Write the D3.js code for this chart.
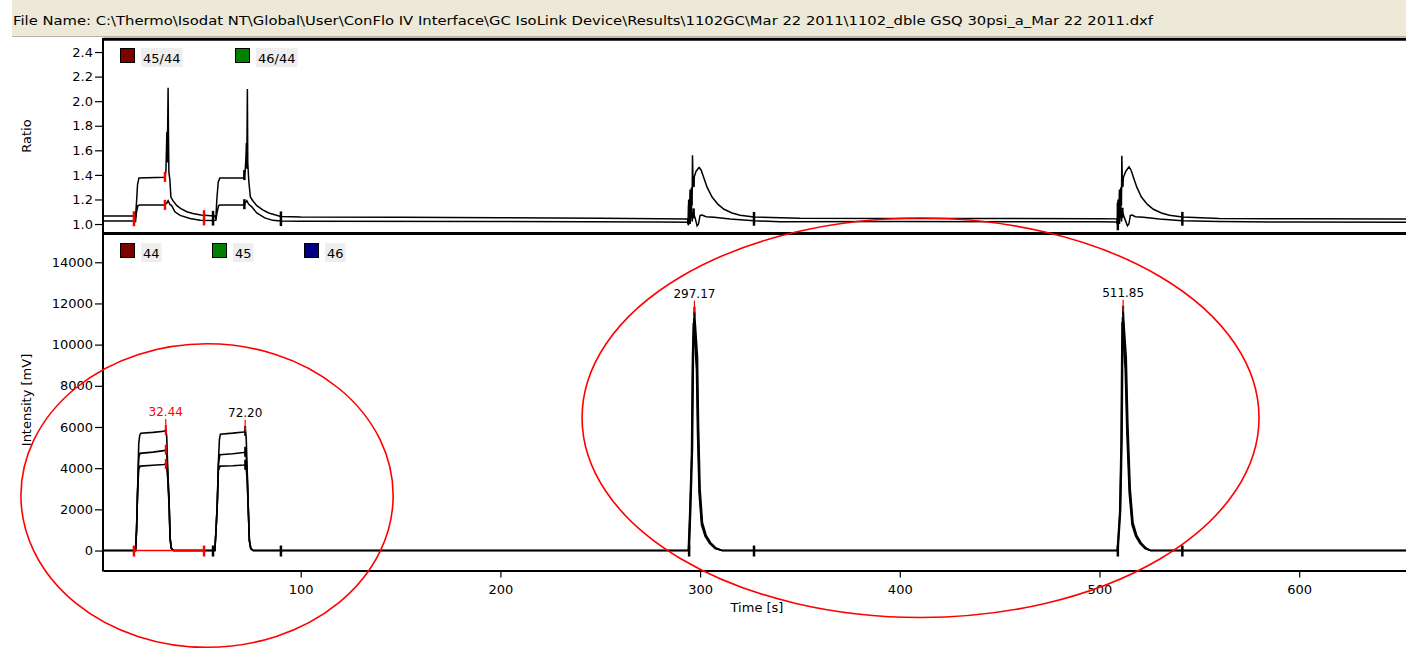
<!DOCTYPE html>
<html>
<head>
<meta charset="utf-8">
<script src="https://cdn.jsdelivr.net/npm/d3@7"></script>
<style>
body { margin: 0; background: #fff; }
svg text { font-family: "DejaVu Sans", sans-serif; fill: #000; }
</style>
</head>
<body>
<div id="chart"></div>
<script>
// file header
var fileName = "File Name: C:\\Thermo\\Isodat NT\\Global\\User\\ConFlo IV Interface\\GC IsoLink Device\\Results\\1102GC\\Mar 22 2011\\1102_dble GSQ 30psi_a_Mar 22 2011.dxf";

// legend names
var ratioNames = ["45/44", "46/44"];
var massNames = ["44", "45", "46"];

// tick values
var ratioTicks = [1.0, 1.2, 1.4, 1.6, 1.8, 2.0, 2.2, 2.4];
var intensityTicks = [0, 2000, 4000, 6000, 8000, 10000, 12000, 14000];
var timeTicks = [100, 200, 300, 400, 500, 600];

// peaks (time in s)
var peakStart = [16.5, 56.1, 294.5, 509.2];
var peakEnd = [51.6, 90.1, 327, 541.5];
var peakApex = [32.44, 72.20, 297.17, 511.85];
var peakLabel = ["32.44", "72.20", "297.17", "511.85"];
var selectedPeak = 0;

// ratio traces [time, ratio]
var r45 = [
  [0,1.065],[16,1.065],[17.3,1.06],[17.8,1.18],[18.3,1.32],[19,1.375],[32,1.38],[32.5,1.43],[33,1.75],[33.2,1.5],[33.4,1.81],[33.6,2.11],[33.8,1.7],[34,1.42],[34.5,1.36],[35,1.22],[36,1.19],[38,1.15],[40,1.125],[43,1.1],[46,1.085],[50,1.073],[55,1.068],[57,1.065],[57.5,1.04],[58,1.2],[58.7,1.34],[59.5,1.375],[71.5,1.375],[72.2,1.43],[72.6,1.55],[72.8,1.66],[73,1.45],[73.3,2.1],[73.5,1.5],[74,1.35],[74.8,1.22],[76,1.19],[78,1.15],[81,1.115],[84,1.09],[87,1.075],[90,1.062],[100,1.057],[150,1.055],[200,1.052],[250,1.048],[280,1.042],[293.7,1.04],
  [294,1.0],[294.3,1.2],[294.6,1.03],[295,1.28],[295.3,1.05],[295.7,1.3],[296,1.15],[296.2,1.56],[296.5,1.3],[297,1.38],[298,1.43],[299.5,1.46],[300.5,1.44],[302,1.37],[303.5,1.3],[306,1.22],[309,1.16],[312,1.12],[316,1.09],[320,1.072],[327,1.058],
  [350,1.047],[400,1.045],[450,1.045],[500,1.043],[508.7,1.042],
  [509,1.0],[509.3,1.2],[509.6,1.03],[510,1.28],[510.3,1.05],[510.7,1.3],[511,1.15],[511.2,1.556],[511.5,1.3],[512,1.38],[513.2,1.43],[514.8,1.466],[515.8,1.44],[517.2,1.37],[518.7,1.3],[521,1.22],[524,1.16],[527,1.12],[531,1.09],[535,1.072],[541.5,1.058],
  [560,1.045],[600,1.042],[653.5,1.04]
];
var r46 = [
  [0,1.024],[16,1.024],[17.3,1.02],[17.8,1.1],[18.5,1.15],[19.5,1.155],[32,1.155],[33,1.17],[33.6,1.19],[34.5,1.16],[35.4,1.15],[37,1.1],[39.6,1.07],[44.6,1.045],[49.6,1.03],[56,1.028],[57.5,1.03],[58.2,1.1],[58.9,1.15],[59.6,1.155],[71.5,1.155],[72.2,1.17],[73,1.19],[74,1.16],[75.5,1.14],[78,1.09],[82,1.05],[86,1.03],[90,1.024],[100,1.022],[200,1.02],[280,1.016],[293.7,1.014],
  [294.2,0.99],[294.6,1.15],[295,1.0],[295.5,1.22],[296,1.02],[296.5,1.1],[297.5,1.05],[298.5,0.986],[299.2,1.0],[300,1.07],[301,1.073],[303,1.06],[307,1.055],[315,1.04],[327,1.027],[340,1.018],[400,1.02],[500,1.018],[508.7,1.016],
  [509.2,0.99],[509.6,1.15],[510,1.0],[510.5,1.22],[511,1.02],[511.5,1.1],[512.5,1.05],[514,0.986],[514.7,1.0],[515.5,1.07],[516.3,1.073],[518,1.06],[522,1.055],[530,1.04],[541.5,1.027],[560,1.02],[600,1.016],[653.5,1.014]
];

// intensity traces [time, mV]
var i44 = [
  [0,0],[17.3,0],[17.8,1000],[18.3,2800],[18.9,5200],[19.4,5600],[20,5700],[26,5740],[31.5,5790],[32.5,5850],[32.9,5550],[33.4,4000],[34.1,2400],[34.6,600],[35.2,120],[36.3,0],
  [57,0],[57.6,1000],[58.2,2200],[58.8,4300],[59.3,5400],[59.8,5650],[66,5700],[71.5,5760],[72.3,5820],[72.7,5500],[73.2,3900],[73.8,2000],[74.3,500],[75,100],[76.2,0],
  [294.6,0],[295.3,2000],[296.2,5000],[296.7,10000],[297.17,11600],[297.7,10900],[298.7,9400],[299.2,6200],[300,3000],[301.2,1350],[303,750],[305.3,380],[308,120],[311,0],
  [509.3,0],[510.6,2000],[511.3,5500],[511.65,10000],[511.85,11650],[512.35,10900],[513.4,9400],[514.2,6200],[515.4,3000],[516.8,1350],[518.6,750],[520.8,380],[523.3,120],[525.5,0],
  [653.5,0]
];
var i45 = [
  [0,0],[17.3,0],[17.8,1000],[18.3,2800],[18.9,4500],[19.5,4720],[26,4780],[31.5,4850],[32.5,4900],[32.9,4700],[33.4,3800],[34.1,2300],[34.6,600],[35.2,120],[36.3,0],
  [57,0],[57.6,1000],[58.2,2200],[58.8,4200],[59.5,4650],[66,4700],[71.5,4760],[72.3,4800],[72.7,4600],[73.2,3700],[73.8,1900],[74.3,500],[75,100],[76.2,0],
  [294.3,0],[295.0,1900],[295.9,4800],[296.4,9700],[296.87,11300],[297.4,10600],[298.4,9100],[298.9,6000],[299.7,2900],[300.9,1300],[302.7,720],[305,360],[307.7,110],[311,0],
  [509.1,0],[510.3,1900],[511.0,5300],[511.35,9700],[511.55,11350],[512.05,10600],[513.1,9100],[513.9,6000],[515.1,2900],[516.5,1300],[518.3,720],[520.5,360],[523,110],[525.5,0],
  [653.5,0]
];
var i46 = [
  [0,0],[17.3,0],[17.8,1000],[18.3,2800],[18.9,3950],[19.6,4100],[26,4140],[31.5,4180],[32.5,4200],[32.9,4050],[33.4,3500],[34.1,2200],[34.6,550],[35.2,110],[36.3,0],
  [57,0],[57.6,1000],[58.2,2200],[58.8,3900],[59.6,4100],[66,4120],[71.5,4150],[72.3,4170],[72.7,4000],[73.2,3400],[73.8,1800],[74.3,450],[75,90],[76.2,0],
  [294.1,0],[294.8,1800],[295.7,4600],[296.2,9400],[296.67,11050],[297.2,10300],[298.2,8800],[298.7,5800],[299.5,2800],[300.7,1250],[302.5,700],[304.8,340],[307.5,100],[311,0],
  [508.9,0],[510.1,1800],[510.8,5100],[511.15,9400],[511.35,11100],[511.85,10300],[512.9,8800],[513.7,5800],[514.9,2800],[516.3,1250],[518.1,700],[520.3,340],[522.8,100],[525.5,0],
  [653.5,0]
];

// red ellipse annotations (centre time / mV, half-width in s, half-height in mV)
var ringT = [53.1, 410.4];
var ringV = [2670, 6450];
var ringHalfT = [93.2, 169.5];
var ringHalfV = [7370, 9700];

var W = 1406, H = 653;
var RED = "#ff0000";

var svg = d3.select("#chart").append("svg")
  .attr("width", W)
  .attr("height", H);

// header bar
svg.append("rect").attr("x", 12).attr("y", 0).attr("width", W - 12).attr("height", 37).attr("fill", "#ECE9D8");
svg.append("line").attr("x1", 12).attr("x2", W).attr("y1", 36.5).attr("y2", 36.5).attr("stroke", "#B8B5A6");
svg.append("text")
  .attr("x", 13).attr("y", 25)
  .attr("font-size", "12px")
  .attr("textLength", 1140)
  .attr("lengthAdjust", "spacingAndGlyphs")
  .text(fileName);

// scales
var x = d3.scaleLinear().domain([1, 653.5]).range([103, 1406]);
var yR = d3.scaleLinear().domain([0.927, 2.498]).range([233, 40]);
var yI = d3.scaleLinear().domain([-970, 15324]).range([570.5, 235]);

var defs = svg.append("defs");
defs.append("clipPath").attr("id", "clipR").append("rect")
  .attr("x", 103).attr("y", 41).attr("width", 1303).attr("height", 192);
defs.append("clipPath").attr("id", "clipI").append("rect")
  .attr("x", 103).attr("y", 235).attr("width", 1303).attr("height", 335);

function valueAt(series, t) {
  var i = d3.bisector(function(d) { return d[0]; }).left(series, t);
  if (i <= 0) return series[0][1];
  if (i >= series.length) return series[series.length - 1][1];
  var a = series[i - 1], b = series[i];
  return a[1] + (b[1] - a[1]) * (t - a[0]) / (b[0] - a[0]);
}

// ---- ratio panel
var gR = svg.append("g").attr("clip-path", "url(#clipR)");
var lineR = d3.line().x(function(d) { return x(d[0]); }).y(function(d) { return yR(d[1]); });
gR.selectAll(".trace").data([r45, r46]).join("path")
  .attr("class", "trace")
  .attr("d", lineR)
  .attr("fill", "none")
  .attr("stroke", "#000")
  .attr("stroke-width", 1.5);

// start / end markers on ratio traces
peakStart.forEach(function(s, i) {
  var col = i === selectedPeak ? RED : "#000";
  [s, peakEnd[i]].forEach(function(t) {
    var a = valueAt(r45, t), b = valueAt(r46, t);
    gR.append("line")
      .attr("x1", x(t)).attr("x2", x(t))
      .attr("y1", yR(Math.max(a, b)) - 5)
      .attr("y2", yR(Math.min(a, b)) + 5)
      .attr("stroke", col).attr("stroke-width", 2.5);
  });
  [r45, r46].forEach(function(s2) {
    var v = valueAt(s2, peakApex[i] - 0.4);
    gR.append("line")
      .attr("x1", x(peakApex[i] - 0.4)).attr("x2", x(peakApex[i] - 0.4))
      .attr("y1", yR(v) - 5).attr("y2", yR(v) + 5)
      .attr("stroke", col).attr("stroke-width", 2.5);
  });
});

// ---- intensity panel
var gI = svg.append("g").attr("clip-path", "url(#clipI)");
var lineI = d3.line().x(function(d) { return x(d[0]); }).y(function(d) { return yI(d[1]); });
gI.selectAll(".trace").data([i44, i45, i46]).join("path")
  .attr("class", "trace")
  .attr("d", lineI)
  .attr("fill", "none")
  .attr("stroke", "#000")
  .attr("stroke-width", 1.6);

// selected peak baseline
gI.append("line")
  .attr("x1", x(peakStart[selectedPeak])).attr("x2", x(peakEnd[selectedPeak]))
  .attr("y1", yI(0)).attr("y2", yI(0))
  .attr("stroke", RED).attr("stroke-width", 1.5);

peakStart.forEach(function(s, i) {
  var col = i === selectedPeak ? RED : "#000";
  [s, peakEnd[i]].forEach(function(t) {
    gI.append("line")
      .attr("x1", x(t)).attr("x2", x(t))
      .attr("y1", yI(0) - 5).attr("y2", yI(0) + 6)
      .attr("stroke", col).attr("stroke-width", 2.5);
  });
  // highest point of the three traces around the apex
  var top = d3.max([i44, i45, i46], function(s2) {
    return d3.max(s2.filter(function(d) { return Math.abs(d[0] - peakApex[i]) <= 1; }), function(d) { return d[1]; });
  });
  [i44, i45, i46].forEach(function(s2) {
    var v = valueAt(s2, peakApex[i]);
    gI.append("line")
      .attr("x1", x(peakApex[i])).attr("x2", x(peakApex[i]))
      .attr("y1", yI(v) - 5).attr("y2", yI(v) + 5)
      .attr("stroke", col).attr("stroke-width", 2);
  });
  gI.append("line")
    .attr("x1", x(peakApex[i])).attr("x2", x(peakApex[i]))
    .attr("y1", yI(top) - 11).attr("y2", yI(top) + 1)
    .attr("stroke", RED).attr("stroke-width", 1.2);
  gI.append("text")
    .attr("x", x(peakApex[i]))
    .attr("y", yI(top) - 14)
    .attr("text-anchor", "middle")
    .attr("font-size", "12px")
    .style("fill", i === selectedPeak ? RED : "#000")
    .text(peakLabel[i]);
});

// ---- frame and axes
svg.append("line").attr("x1", 103).attr("x2", W).attr("y1", 39.2).attr("y2", 39.2)
  .attr("stroke", "#000").attr("stroke-width", 3);
svg.append("line").attr("x1", 103).attr("x2", W).attr("y1", 233.5).attr("y2", 233.5)
  .attr("stroke", "#000").attr("stroke-width", 3);
svg.append("line").attr("x1", 103).attr("x2", 103).attr("y1", 38).attr("y2", 571.5)
  .attr("stroke", "#000").attr("stroke-width", 2);

var axR = svg.append("g").attr("transform", "translate(102,0)")
  .call(d3.axisLeft(yR).tickValues(ratioTicks).tickFormat(d3.format(".1f")).tickSize(7).tickPadding(2));
var axI = svg.append("g").attr("transform", "translate(102,0)")
  .call(d3.axisLeft(yI).tickValues(intensityTicks).tickFormat(d3.format("d")).tickSize(7).tickPadding(2));
var axX = svg.append("g").attr("transform", "translate(0,570.5)")
  .call(d3.axisBottom(x).tickValues(timeTicks).tickFormat(d3.format("d")).tickSize(7).tickSizeOuter(0).tickPadding(7));

[axR, axI].forEach(function(a) { a.select(".domain").remove(); });
axX.select(".domain").attr("stroke-width", 2);
[axR, axI, axX].forEach(function(a) {
  a.selectAll("text").attr("font-size", "13px").attr("font-family", "DejaVu Sans, sans-serif").style("fill", "#000");
  a.selectAll(".tick line").attr("stroke", "#000").attr("stroke-width", 1.2);
});

// axis titles
svg.append("text").attr("transform", "translate(31,136) rotate(-90)")
  .attr("text-anchor", "middle").attr("font-size", "13px").text("Ratio");
svg.append("text").attr("transform", "translate(31,400) rotate(-90)")
  .attr("text-anchor", "middle").attr("font-size", "13px").text("Intensity [mV]");
svg.append("text").attr("x", 757).attr("y", 612)
  .attr("text-anchor", "middle").attr("font-size", "13px").text("Time [s]");

// ---- legends
function legend(names, colors, x0, step, y0) {
  names.forEach(function(n, i) {
    var lx = x0 + i * step;
    var bg = svg.append("rect").attr("x", lx + 21).attr("y", y0).attr("height", 19).attr("fill", "#EEEEEE");
    var t = svg.append("text").attr("x", lx + 23).attr("y", y0 + 15).attr("font-size", "13px").text(n);
    bg.attr("width", t.node().getComputedTextLength() + 4);
    svg.append("rect").attr("x", lx + 0.5).attr("y", y0 + 0.5).attr("width", 14).attr("height", 14)
      .attr("fill", colors[i]).attr("stroke", "#000").attr("stroke-width", 1);
  });
}
legend(ratioNames, ["#800000", "#008000"], 120, 115, 48);
legend(massNames, ["#800000", "#008000", "#000080"], 120, 92, 243);

// ---- red annotation rings
ringT.forEach(function(t, i) {
  svg.append("ellipse")
    .attr("cx", x(t)).attr("cy", yI(ringV[i]))
    .attr("rx", x(t + ringHalfT[i]) - x(t))
    .attr("ry", yI(ringV[i] - ringHalfV[i]) - yI(ringV[i]))
    .attr("fill", "none")
    .attr("stroke", RED)
    .attr("stroke-width", 1.6);
});
</script>
</body>
</html>
